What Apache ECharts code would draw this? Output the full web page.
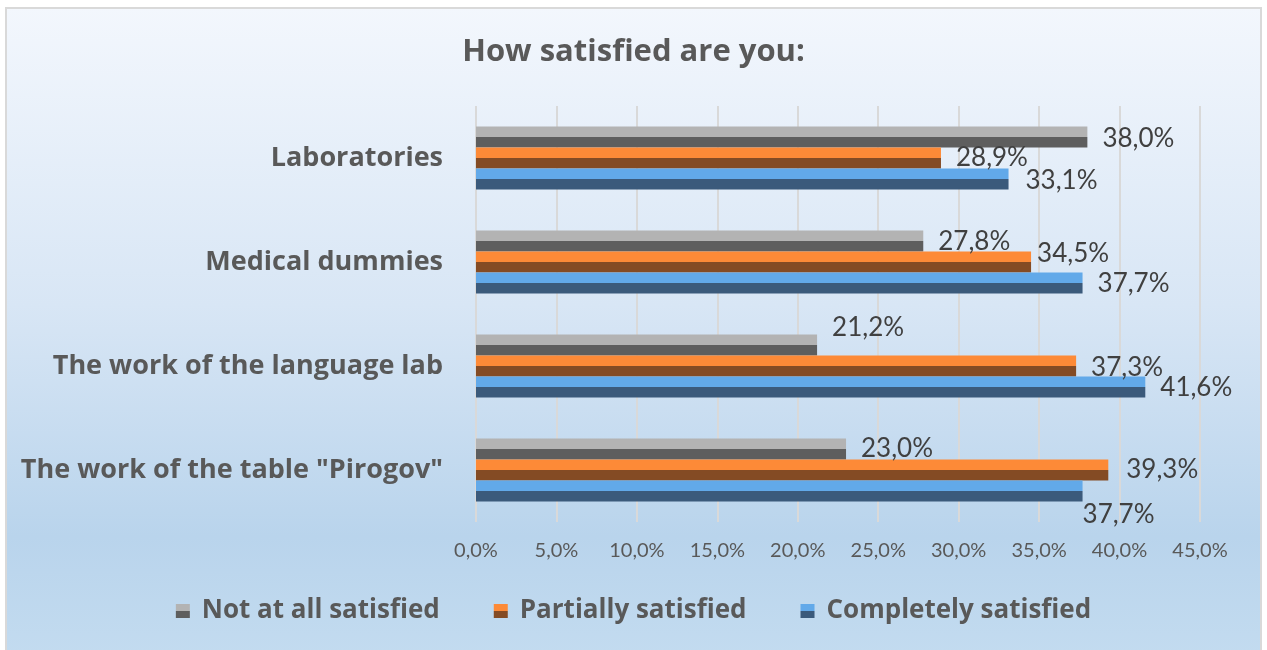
<!DOCTYPE html>
<html>
<head>
<meta charset="utf-8">
<script src="https://cdn.jsdelivr.net/npm/echarts@6/dist/echarts.min.js"></script>
<style>
html, body {
    margin: 0;
    padding: 0;
    background: #fff;
}

#chart {
    width: 1267px;
    height: 650px;
}
</style>
</head>
<body>
<div id="chart"></div>
<script>
// categories bottom -> top (as the y axis draws them)
const categories = ['The work of the table "Pirogov"', 'The work of the language lab', 'Medical dummies', 'Laboratories']
// series order: first one is drawn on top of each group
const seriesNames = ['Not at all satisfied', 'Partially satisfied', 'Completely satisfied']
const notAtAll = [23.0, 21.2, 27.8, 38.0]
const partially = [39.3, 37.3, 34.5, 28.9]
const completely = [37.7, 41.6, 37.7, 33.1]
const xTicks = [0, 45, 5]

// label nudges so the labels sit like in the original
const labelShift = {
    'Completely satisfied': [[-15, 24], [0, 1], [0, 1], [2, 2]],
    'Partially satisfied': [[3, 0], [0, 2], [-9, -8], [0, 0]],
    'Not at all satisfied': [[0, 0], [0, -17], [0, 1], [0, 2]]
}

const colors = {
    'Completely satisfied': ['#62a9e9', '#3b5a7b'],
    'Partially satisfied': ['#fd8a37', '#844b24'],
    'Not at all satisfied': ['#b3b3b3', '#5e5e5e']
}

function twoTone (name) {
    const c = colors[name]
    return new echarts.graphic.LinearGradient(0, 0, 0, 1, [
        { offset: 0, color: c[0] },
        { offset: 0.5, color: c[0] },
        { offset: 0.5, color: c[1] },
        { offset: 1, color: c[1] }
    ])
}

function pct (v) {
    return v.toFixed(1).replace('.', ',') + '%'
}

const font = 'Lato, "Open Sans", sans-serif'
const boldFont = '"Open Sans", Lato, sans-serif'

const chart = echarts.init(document.getElementById('chart'))

const values = [notAtAll, partially, completely]

const option = {
    textStyle: { fontFamily: font },
    graphic: [{
        type: 'rect',
        z: -10,
        silent: true,
        shape: { x: 6, y: 8, width: 1255, height: 660 },
        style: {
            fill: new echarts.graphic.LinearGradient(0, 0, 0, 1, [
                { offset: 0, color: '#f3f7fd' },
                { offset: 0.45, color: '#d8e6f5' },
                { offset: 0.8, color: '#b9d4ec' },
                { offset: 1, color: '#c4dcf0' }
            ]),
            stroke: '#d9d9d9',
            lineWidth: 2
        }
    }],
    title: {
        text: 'How satisfied are you:',
        left: 'center',
        top: 32,
        textStyle: {
            fontFamily: boldFont,
            fontSize: 31,
            fontWeight: 'bold',
            color: '#595959'
        }
    },
    legend: {
        data: ['Not at all satisfied', 'Partially satisfied', 'Completely satisfied'],
        left: 'center',
        top: 593,
        itemWidth: 14,
        itemHeight: 14,
        itemGap: 54,
        icon: 'rect',
        textStyle: {
            fontFamily: boldFont,
            fontSize: 26,
            fontWeight: 'bold',
            color: '#595959',
            padding: [0, 0, 0, 7]
        }
    },
    grid: {
        left: 476,
        right: 67,
        top: 106,
        bottom: 128
    },
    xAxis: {
        type: 'value',
        min: xTicks[0],
        max: xTicks[1],
        interval: xTicks[2],
        axisLine: { show: false },
        axisTick: { show: false },
        splitLine: {
            lineStyle: { color: '#d9d9d9', width: 2 }
        },
        axisLabel: {
            margin: 19,
            fontFamily: font,
            fontSize: 20,
            color: '#595959',
            formatter: v => pct(v)
        }
    },
    yAxis: {
        type: 'category',
        data: categories,
        axisLine: { show: false },
        axisTick: { show: false },
        axisLabel: {
            margin: 33,
            fontFamily: boldFont,
            fontSize: 27,
            fontWeight: 'bold',
            color: '#595959'
        }
    },
    series: seriesNames.map((name, i) => ({
        name: name,
        type: 'bar',
        barWidth: 21,
        barGap: '0%',
        itemStyle: { color: twoTone(name) },
        label: {
            show: true,
            position: 'right',
            distance: 15,
            fontFamily: font,
            fontSize: 26,
            color: '#404040',
            formatter: p => pct(p.value)
        },
        data: values[i].map((v, j) => ({
            value: v,
            label: { offset: labelShift[name][j] }
        }))
    }))
}

chart.setOption(option)
</script>
</body>
</html>
